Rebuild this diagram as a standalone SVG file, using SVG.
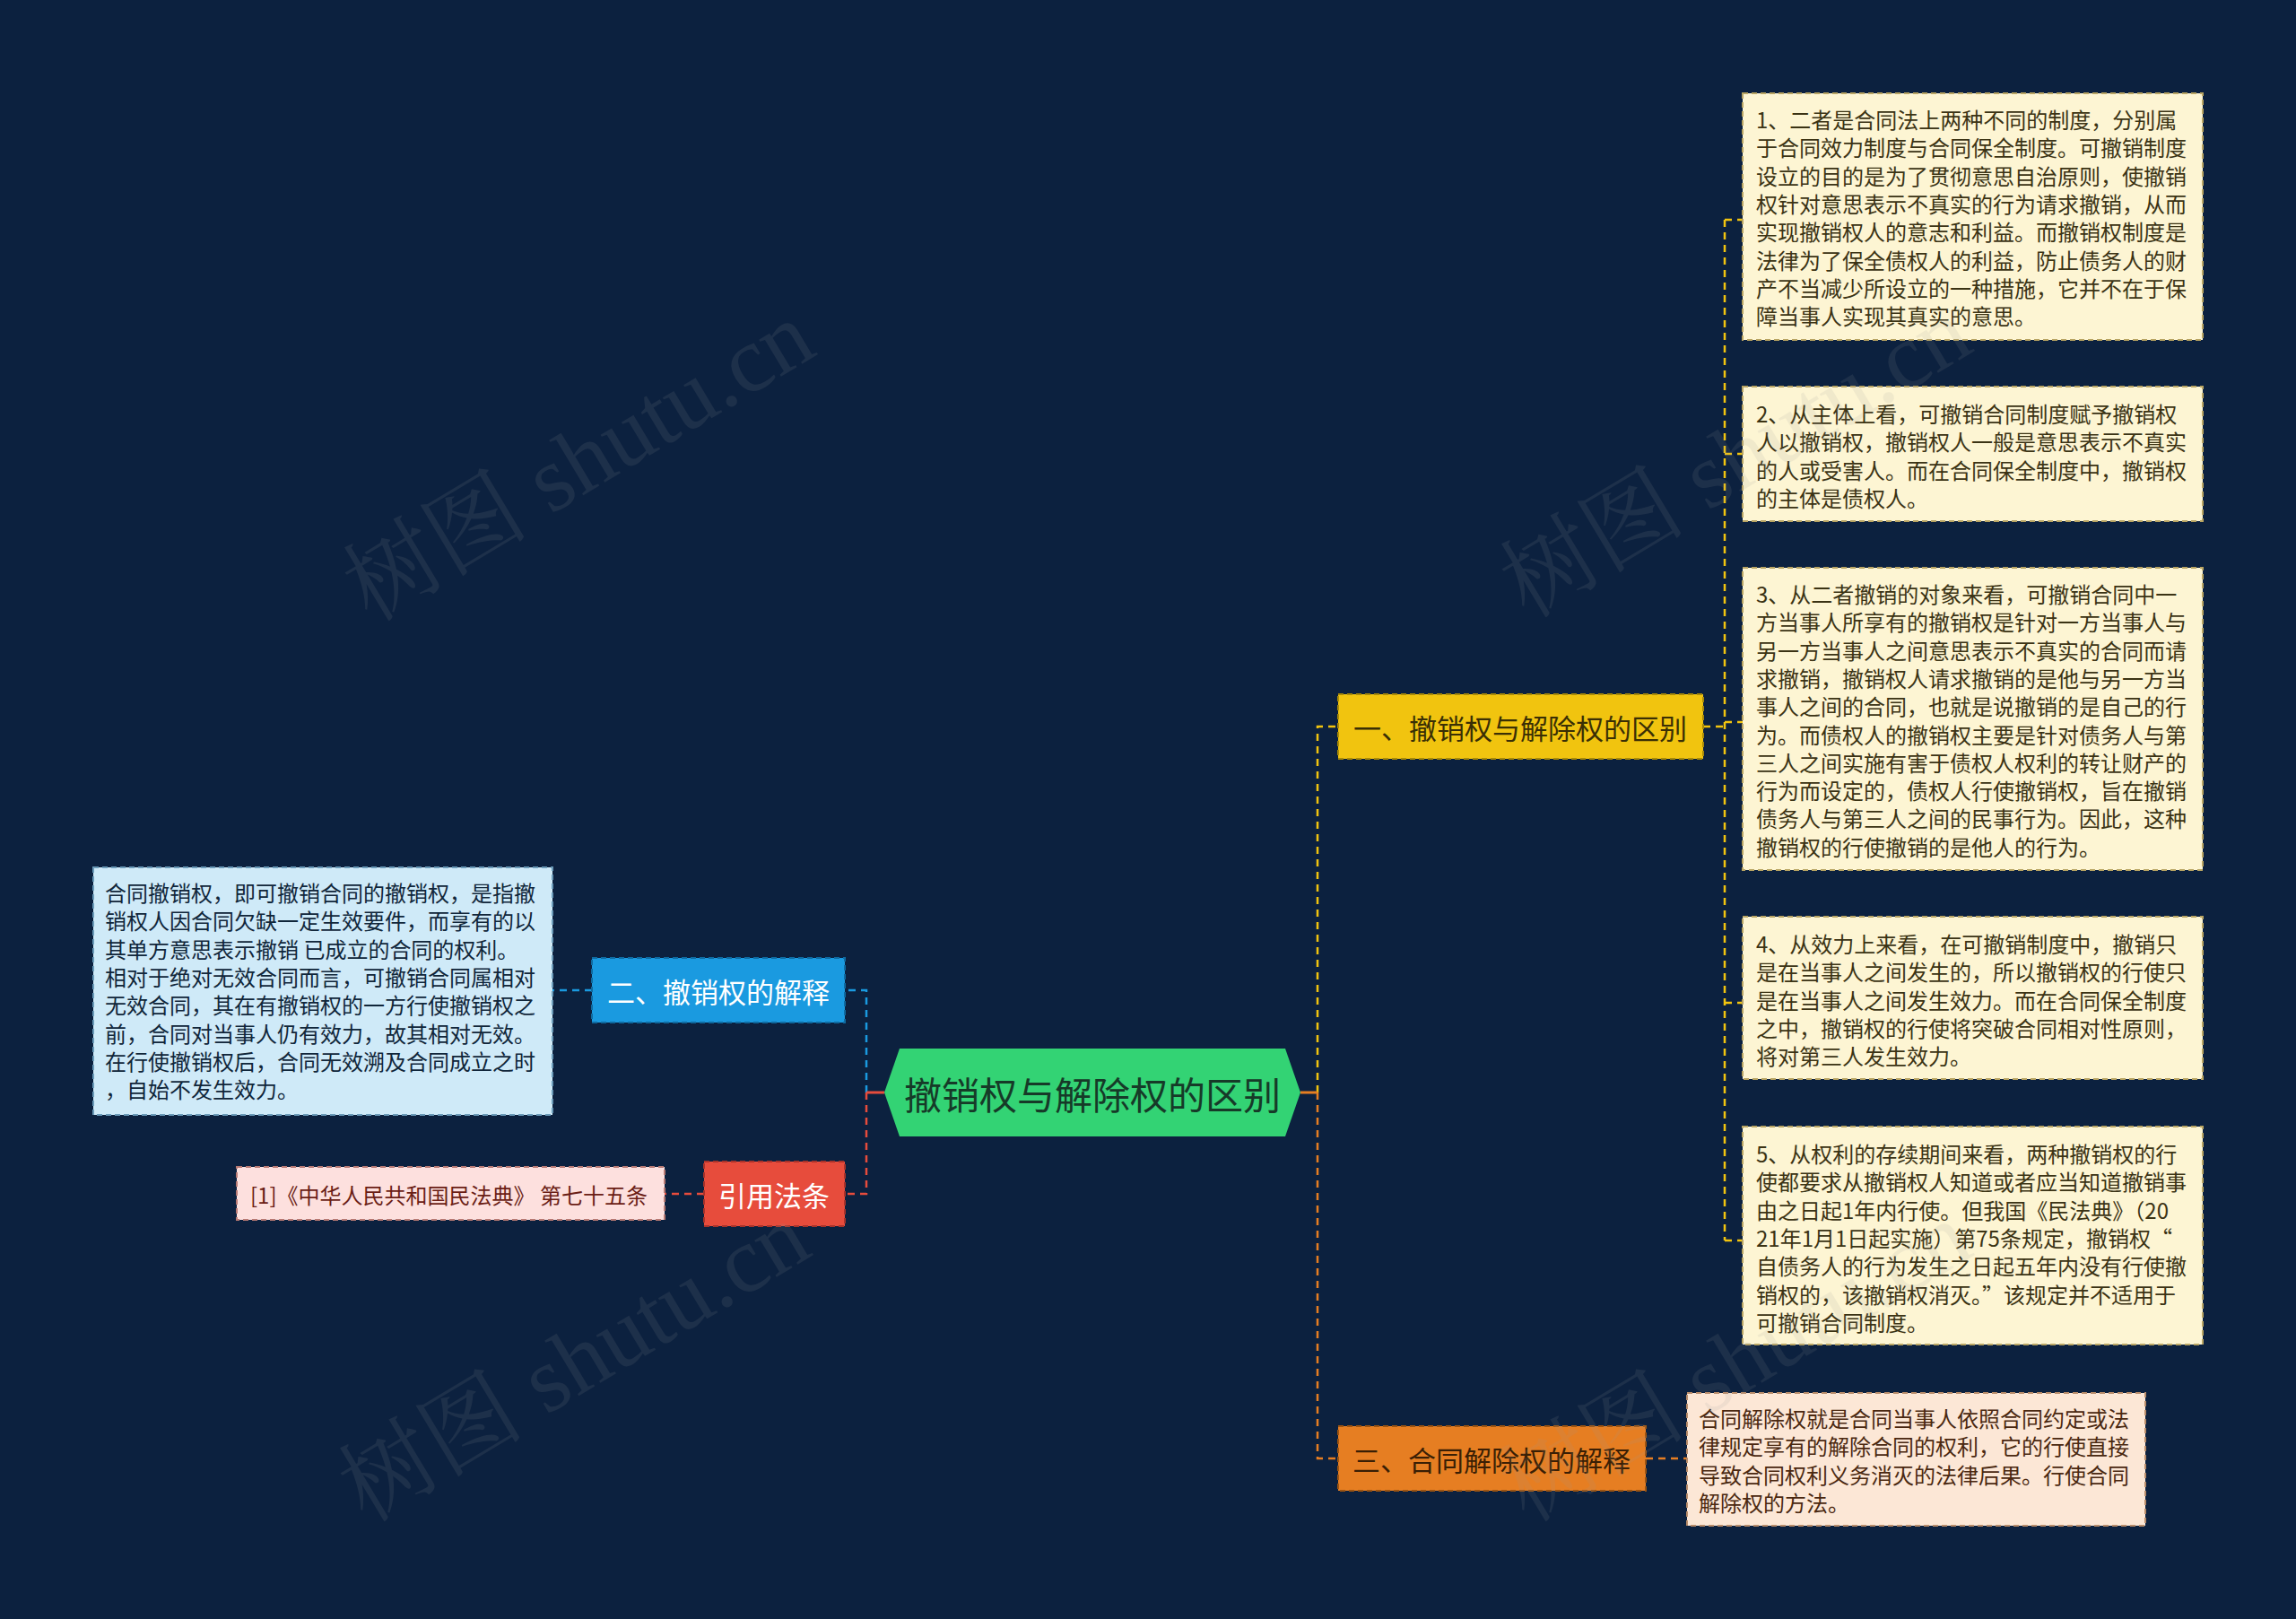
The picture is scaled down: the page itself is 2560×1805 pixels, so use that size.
<svg xmlns="http://www.w3.org/2000/svg" width="2560" height="1805" viewBox="0 0 2560 1805">
<style>
text{font-family:"Noto Sans CJK SC","Noto Sans",sans-serif;dominant-baseline:central}
.leaf{font-size:24px}
.conn{fill:none;stroke-width:2.5;stroke-dasharray:8 6}
.bd{stroke-width:2;stroke-dasharray:6 4}
.wm{font-size:104px;fill:#9a9a9a;opacity:0.12;font-family:"Liberation Serif","Noto Serif CJK SC","Noto Sans CJK SC",serif}
</style>
<rect x="0" y="0" width="2560" height="1805" fill="#0c213f"/>
<g id="connectors">
<path class="conn" stroke="#f1c40f" d="M1469 1218 V810 H1492"/>
<path class="conn" stroke="#e67e22" d="M1469 1218 V1626 H1492"/>
<line x1="1450" y1="1218" x2="1469" y2="1218" stroke="#e67e22" stroke-width="3"/>
<path class="conn" stroke="#1a9ae0" d="M966 1218 V1104 H942"/>
<path class="conn" stroke="#e74c3c" d="M966 1218 V1331 H942"/>
<line x1="986" y1="1218" x2="966" y2="1218" stroke="#e74c3c" stroke-width="3"/>
<path class="conn" stroke="#f1c40f" d="M1899 810 H1923 M1923 245 V1383 M1923 245 H1943 M1923 506 H1943 M1923 805 H1943 M1923 1118 H1943 M1923 1383 H1943"/>
<path class="conn" stroke="#e67e22" d="M1835 1626 H1881"/>
<path class="conn" stroke="#1a9ae0" d="M660 1104 H616"/>
<path class="conn" stroke="#e74c3c" d="M785 1331 H741"/>
</g>
<g id="center">
<polygon points="986,1218 1003,1169 1433,1169 1450,1218 1433,1267 1003,1267" fill="#33d374"/>
<text x="1218" y="1218" font-size="42" fill="#163a28" text-anchor="middle">撤销权与解除权的区别</text>
</g>
<g id="n1">
<rect x="1492" y="774" width="407" height="72" fill="#f1c40f" stroke="#a88a08" class="bd"/>
<text x="1695" y="810" font-size="31" fill="#3a2f05" text-anchor="middle">一、撤销权与解除权的区别</text>
</g>
<g id="n3">
<rect x="1492" y="1590" width="343" height="72" fill="#e67e22" stroke="#9c5412" class="bd"/>
<text x="1663" y="1626" font-size="31" fill="#3a1f05" text-anchor="middle">三、合同解除权的解释</text>
</g>
<g id="n2">
<rect x="660" y="1068" width="282" height="72" fill="#1a9ae0" stroke="#0f6aa0" class="bd"/>
<text x="801" y="1104" font-size="31" fill="#ffffff" text-anchor="middle">二、撤销权的解释</text>
</g>
<g id="nref">
<rect x="785" y="1295" width="157" height="72" fill="#e74c3c" stroke="#a8322a" class="bd"/>
<text x="863" y="1331" font-size="31" fill="#ffffff" text-anchor="middle">引用法条</text>
</g>
<g id="leaf1">
<rect x="1943" y="104" width="513" height="275" fill="#fdf5d3" stroke="#b8a462" class="bd"/>
<text class="leaf" fill="#3b3314">
<tspan x="1958" y="132">1、二者是合同法上两种不同的制度，分别属</tspan>
<tspan x="1958" y="163.3">于合同效力制度与合同保全制度。可撤销制度</tspan>
<tspan x="1958" y="194.6">设立的目的是为了贯彻意思自治原则，使撤销</tspan>
<tspan x="1958" y="225.9">权针对意思表示不真实的行为请求撤销，从而</tspan>
<tspan x="1958" y="257.2">实现撤销权人的意志和利益。而撤销权制度是</tspan>
<tspan x="1958" y="288.5">法律为了保全债权人的利益，防止债务人的财</tspan>
<tspan x="1958" y="319.8">产不当减少所设立的一种措施，它并不在于保</tspan>
<tspan x="1958" y="351.1">障当事人实现其真实的意思。</tspan>
</text>
</g>
<g id="leaf2">
<rect x="1943" y="431" width="513" height="150" fill="#fdf5d3" stroke="#b8a462" class="bd"/>
<text class="leaf" fill="#3b3314">
<tspan x="1958" y="460">2、从主体上看，可撤销合同制度赋予撤销权</tspan>
<tspan x="1958" y="491.3">人以撤销权，撤销权人一般是意思表示不真实</tspan>
<tspan x="1958" y="522.6">的人或受害人。而在合同保全制度中，撤销权</tspan>
<tspan x="1958" y="553.9">的主体是债权人。</tspan>
</text>
</g>
<g id="leaf3">
<rect x="1943" y="633" width="513" height="337" fill="#fdf5d3" stroke="#b8a462" class="bd"/>
<text class="leaf" fill="#3b3314">
<tspan x="1958" y="661">3、从二者撤销的对象来看，可撤销合同中一</tspan>
<tspan x="1958" y="692.3">方当事人所享有的撤销权是针对一方当事人与</tspan>
<tspan x="1958" y="723.6">另一方当事人之间意思表示不真实的合同而请</tspan>
<tspan x="1958" y="754.9">求撤销，撤销权人请求撤销的是他与另一方当</tspan>
<tspan x="1958" y="786.2">事人之间的合同，也就是说撤销的是自己的行</tspan>
<tspan x="1958" y="817.5">为。而债权人的撤销权主要是针对债务人与第</tspan>
<tspan x="1958" y="848.8">三人之间实施有害于债权人权利的转让财产的</tspan>
<tspan x="1958" y="880.1">行为而设定的，债权人行使撤销权，旨在撤销</tspan>
<tspan x="1958" y="911.4">债务人与第三人之间的民事行为。因此，这种</tspan>
<tspan x="1958" y="942.7">撤销权的行使撤销的是他人的行为。</tspan>
</text>
</g>
<g id="leaf4">
<rect x="1943" y="1022" width="513" height="181" fill="#fdf5d3" stroke="#b8a462" class="bd"/>
<text class="leaf" fill="#3b3314">
<tspan x="1958" y="1051">4、从效力上来看，在可撤销制度中，撤销只</tspan>
<tspan x="1958" y="1082.3">是在当事人之间发生的，所以撤销权的行使只</tspan>
<tspan x="1958" y="1113.6">是在当事人之间发生效力。而在合同保全制度</tspan>
<tspan x="1958" y="1144.9">之中，撤销权的行使将突破合同相对性原则，</tspan>
<tspan x="1958" y="1176.2">将对第三人发生效力。</tspan>
</text>
</g>
<g id="leaf5">
<rect x="1943" y="1256" width="513" height="243" fill="#fdf5d3" stroke="#b8a462" class="bd"/>
<text class="leaf" fill="#3b3314">
<tspan x="1958" y="1285">5、从权利的存续期间来看，两种撤销权的行</tspan>
<tspan x="1958" y="1316.3">使都要求从撤销权人知道或者应当知道撤销事</tspan>
<tspan x="1958" y="1347.6">由之日起1年内行使。但我国《民法典》（20</tspan>
<tspan x="1958" y="1378.9">21年1月1日起实施）第75条规定，撤销权“</tspan>
<tspan x="1958" y="1410.2">自债务人的行为发生之日起五年内没有行使撤</tspan>
<tspan x="1958" y="1441.5">销权的，该撤销权消灭。”该规定并不适用于</tspan>
<tspan x="1958" y="1472.8">可撤销合同制度。</tspan>
</text>
</g>
<g id="leaf6">
<rect x="1881" y="1553" width="511" height="148" fill="#fce7d6" stroke="#b88c6a" class="bd"/>
<text class="leaf" fill="#4a2810">
<tspan x="1894" y="1580">合同解除权就是合同当事人依照合同约定或法</tspan>
<tspan x="1894" y="1611.3">律规定享有的解除合同的权利，它的行使直接</tspan>
<tspan x="1894" y="1642.6">导致合同权利义务消灭的法律后果。行使合同</tspan>
<tspan x="1894" y="1673.9">解除权的方法。</tspan>
</text>
</g>
<g id="leaf7">
<rect x="104" y="967" width="512" height="276" fill="#cfeaf8" stroke="#6a9ab8" class="bd"/>
<text class="leaf" fill="#10263a">
<tspan x="117" y="994">合同撤销权，即可撤销合同的撤销权，是指撤</tspan>
<tspan x="117" y="1025.3">销权人因合同欠缺一定生效要件，而享有的以</tspan>
<tspan x="117" y="1056.6">其单方意思表示撤销 已成立的合同的权利。</tspan>
<tspan x="117" y="1087.9">相对于绝对无效合同而言，可撤销合同属相对</tspan>
<tspan x="117" y="1119.2">无效合同，其在有撤销权的一方行使撤销权之</tspan>
<tspan x="117" y="1150.5">前，合同对当事人仍有效力，故其相对无效。</tspan>
<tspan x="117" y="1181.8">在行使撤销权后，合同无效溯及合同成立之时</tspan>
<tspan x="117" y="1213.1">，自始不发生效力。</tspan>
</text>
</g>
<g id="leaf8">
<rect x="264" y="1301" width="477" height="59" fill="#fde0de" stroke="#b87a74" class="bd"/>
<text class="leaf" fill="#6b1e16" x="279" y="1331">[1]《中华人民共和国民法典》 第七十五条</text>
</g>
<g id="watermark">
<text class="wm" transform="translate(645 514) rotate(-31)" text-anchor="middle">树图 shutu.cn</text>
<text class="wm" transform="translate(1935 510) rotate(-31)" text-anchor="middle">树图 shutu.cn</text>
<text class="wm" transform="translate(640 1518) rotate(-31)" text-anchor="middle">树图 shutu.cn</text>
<text class="wm" transform="translate(1935 1518) rotate(-31)" text-anchor="middle">树图 shutu.cn</text>
</g>
</svg>
